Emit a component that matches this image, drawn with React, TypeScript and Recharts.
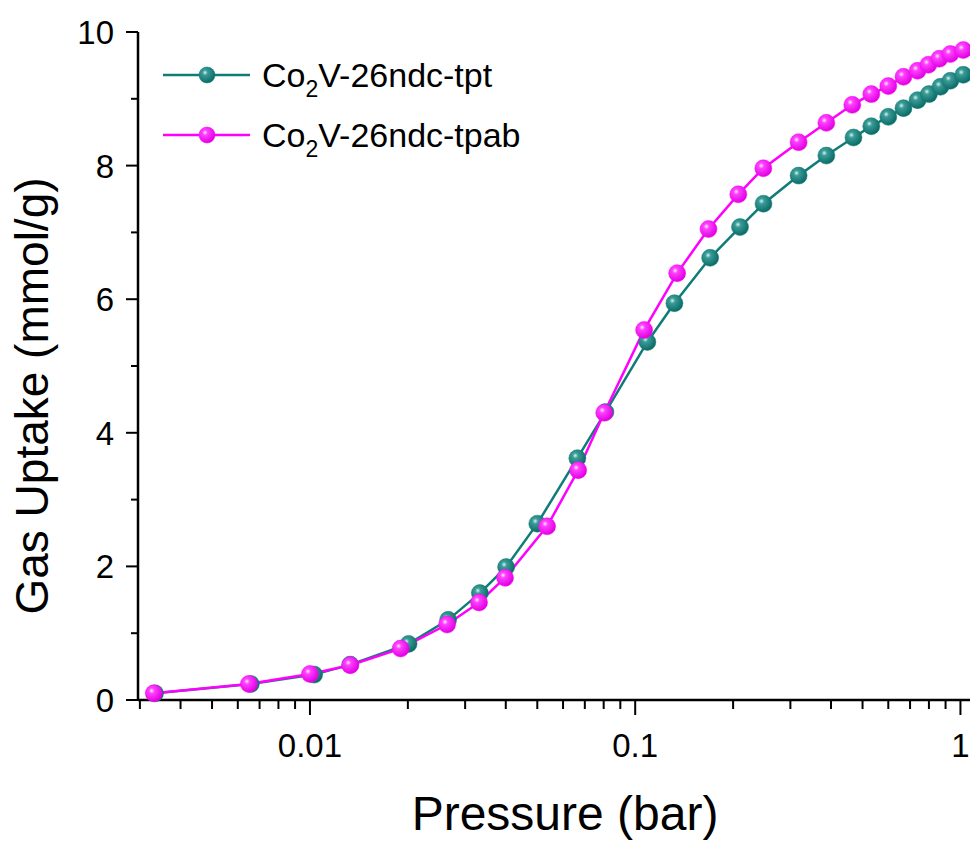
import { LineChart, Line, XAxis, YAxis } from 'recharts'

// Co2V-26ndc-tpt
const tptPressure = [0.00334, 0.00658, 0.0103, 0.0133, 0.0201, 0.0266, 0.0333, 0.0401, 0.05, 0.0664, 0.081, 0.109, 0.132, 0.17, 0.21, 0.248, 0.318, 0.387, 0.469, 0.532, 0.6, 0.668, 0.738, 0.8, 0.868, 0.931, 1.02]
const tptUptake = [0.1, 0.24, 0.38, 0.53, 0.84, 1.2, 1.6, 1.99, 2.64, 3.62, 4.31, 5.36, 5.94, 6.62, 7.08, 7.43, 7.85, 8.15, 8.42, 8.59, 8.73, 8.86, 8.98, 9.07, 9.18, 9.27, 9.36]

// Co2V-26ndc-tpab
const tpabPressure = [0.00331, 0.00649, 0.01, 0.0133, 0.019, 0.0264, 0.0331, 0.0398, 0.0536, 0.0668, 0.0803, 0.1065, 0.1346, 0.168, 0.2075, 0.2477, 0.318, 0.387, 0.465, 0.532, 0.6, 0.668, 0.738, 0.797, 0.861, 0.931, 1.02]
const tpabUptake = [0.1, 0.24, 0.39, 0.52, 0.77, 1.13, 1.46, 1.83, 2.6, 3.44, 4.3, 5.54, 6.39, 7.05, 7.57, 7.96, 8.35, 8.64, 8.91, 9.07, 9.19, 9.33, 9.42, 9.51, 9.6, 9.67, 9.73]

const xTicks = [0.003, 0.004, 0.005, 0.006, 0.007, 0.008, 0.009, 0.01, 0.02, 0.03, 0.04, 0.05, 0.06, 0.07, 0.08, 0.09, 0.1, 0.2, 0.3, 0.4, 0.5, 0.6, 0.7, 0.8, 0.9, 1]
const xLabels: Record<string, string> = { '0.01': '0.01', '0.1': '0.1', '1': '1' }
const yTicks = [0, 1, 2, 3, 4, 5, 6, 7, 8, 9, 10]

const series = [
  { name: 'tpt', label: '-26ndc-tpt', color: '#0f7c77', grad: 'gTeal', p: tptPressure, v: tptUptake },
  { name: 'tpab', label: '-26ndc-tpab', color: '#ff00ff', grad: 'gMag', p: tpabPressure, v: tpabUptake },
]

const FONT = '"Liberation Sans", Arial, sans-serif'

function XTick(props: any) {
  const { x, y, payload } = props
  const lbl = xLabels[String(payload.value)]
  return (
    <g>
      <line x1={x} x2={x} y1={y} y2={y + (lbl ? 15 : 9)} stroke="#000" strokeWidth={2} />
      {lbl && (
        <text x={x} y={y + 57} textAnchor="middle" fontSize={33} fontFamily={FONT} fill="#000">
          {lbl}
        </text>
      )}
    </g>
  )
}

function YTick(props: any) {
  const { x, y, payload } = props
  const major = payload.value % 2 === 0
  return (
    <g>
      <line x1={x} x2={x - (major ? 12 : 7)} y1={y} y2={y} stroke="#000" strokeWidth={2} />
      {major && (
        <text x={x - 24} y={y + 12} textAnchor="end" fontSize={33} fontFamily={FONT} fill="#000">
          {payload.value}
        </text>
      )}
    </g>
  )
}

function makeDot(grad: string, color: string) {
  return (props: any) => {
    const { cx, cy, index } = props
    if (cx == null || cy == null) return <g key={index} />
    return <circle key={index} cx={cx} cy={cy} r={8.5} fill={`url(#${grad})`} stroke={color} strokeWidth={0.5} />
  }
}

export default function App() {
  const data = series.map((s) => s.p.map((p, i) => ({ p, v: s.v[i] })))
  return (
    <div style={{ position: 'absolute', left: 0, top: 0, background: '#fff' }}>
      <LineChart width={972} height={841} margin={{ top: 32, right: 2, bottom: 0, left: 0 }}>
        <defs>
          <radialGradient id="gTeal" cx="38%" cy="35%" r="65%">
            <stop offset="0%" stopColor="#d6f2f0" />
            <stop offset="25%" stopColor="#3a9c97" />
            <stop offset="100%" stopColor="#0b6a66" />
          </radialGradient>
          <radialGradient id="gMag" cx="38%" cy="35%" r="65%">
            <stop offset="0%" stopColor="#fff0ff" />
            <stop offset="25%" stopColor="#ff40ff" />
            <stop offset="100%" stopColor="#e000e0" />
          </radialGradient>
        </defs>
        <XAxis
          dataKey="p"
          type="number"
          scale="log"
          domain={[0.00296, 1.07]}
          allowDataOverflow
          ticks={xTicks}
          interval={0}
          tickSize={0}
          tickMargin={0}
          tick={<XTick />}
          height={141}
          axisLine={{ stroke: '#000', strokeWidth: 2.5 }}
          tickLine={false}
        />
        <YAxis
          type="number"
          domain={[0, 10]}
          ticks={yTicks}
          interval={0}
          tickSize={0}
          tickMargin={0}
          tick={<YTick />}
          width={138}
          axisLine={{ stroke: '#000', strokeWidth: 2.5 }}
          tickLine={false}
        />
        {series.map((s, i) => (
          <Line
            key={s.name}
            data={data[i]}
            dataKey="v"
            name={s.name}
            stroke={s.color}
            strokeWidth={2.5}
            dot={makeDot(s.grad, s.color)}
            isAnimationActive={false}
          />
        ))}
        <text x={565} y={830} textAnchor="middle" fontSize={48} fontFamily={FONT} fill="#000">
          Pressure (bar)
        </text>
        <text
          x={48}
          y={396}
          textAnchor="middle"
          fontSize={46}
          fontFamily={FONT}
          fill="#000"
          transform="rotate(-90 48 396)"
        >
          Gas Uptake (mmol/g)
        </text>
        {series.map((s, i) => {
          const cy = 75 + i * 60
          return (
            <g key={'lg' + s.name}>
              <line x1={163} x2={250} y1={cy} y2={cy} stroke={s.color} strokeWidth={2.5} />
              <circle cx={207} cy={cy} r={8} fill={`url(#${s.grad})`} stroke={s.color} strokeWidth={0.5} />
              <text x={262} y={cy + 12} fontSize={34} fontFamily={FONT} fill="#000">
                Co
                <tspan fontSize={23} dy={10}>2</tspan>
                <tspan dy={-10}>V{s.label}</tspan>
              </text>
            </g>
          )
        })}
      </LineChart>
    </div>
  )
}
